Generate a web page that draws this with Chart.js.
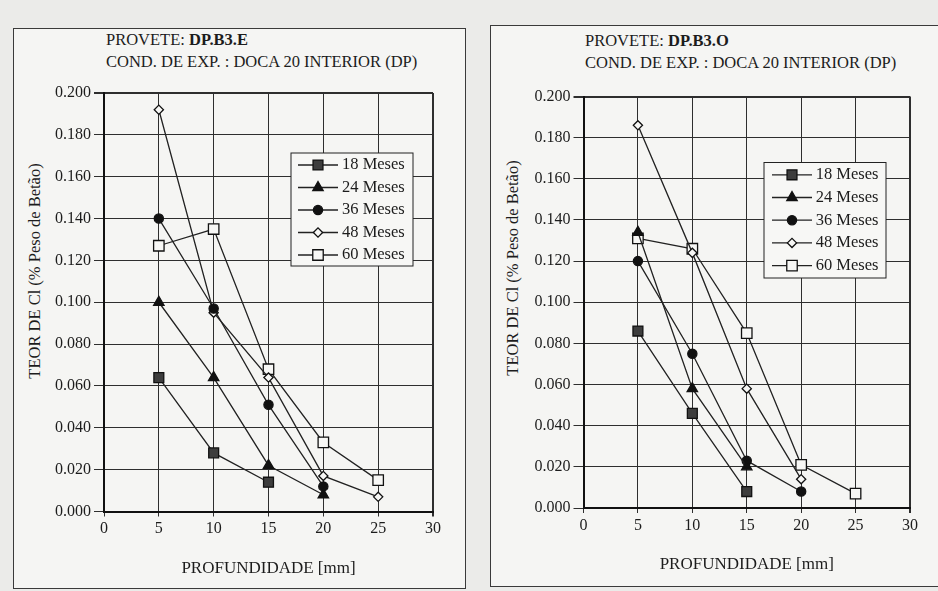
<!DOCTYPE html>
<html>
<head>
<meta charset="utf-8">
<script src="https://cdn.jsdelivr.net/npm/chart.js@4.4.1/dist/chart.umd.min.js"></script>
<style>
body{margin:0;background:#ebebe9;overflow:hidden;width:938px;height:591px;position:relative;font-family:"Liberation Serif",serif;color:#1c1c1c}
.box{position:absolute;border:1.5px solid #3a3a3a;background:#f5f5f3}
.ttl{position:absolute;font-size:16.5px;line-height:22px;white-space:nowrap}
.ytl{position:absolute;font-size:16.5px;white-space:nowrap;transform:translate(-50%,-50%) rotate(-90deg)}
.wrap{position:absolute}
</style>
</head>
<body>
<div class="box" style="left:13px;top:28px;width:451px;height:559px"></div>
<div class="box" style="left:490px;top:25px;width:470px;height:560px"></div>

<div class="ttl" style="left:106px;top:29px">PROVETE: <b>DP.B3.E</b><br>COND. DE EXP. : DOCA 20 INTERIOR (DP)</div>
<div class="ttl" style="left:585px;top:30px">PROVETE: <b>DP.B3.O</b><br>COND. DE EXP. : DOCA 20 INTERIOR (DP)</div>

<div class="ytl" style="left:35px;top:271px">TEOR DE Cl (% Peso de Betão)</div>
<div class="ytl" style="left:513px;top:268px">TEOR DE Cl (% Peso de Betão)</div>

<div class="wrap" style="left:14px;top:29px;width:450px;height:558px"><canvas id="chartE"></canvas></div>
<div class="wrap" style="left:494px;top:27px;width:460px;height:557px"><canvas id="chartO"></canvas></div>

<script>
// profundidade [mm]
const depths = [5, 10, 15, 20, 25];
const labels = ['18 Meses', '24 Meses', '36 Meses', '48 Meses', '60 Meses'];

// provete DP.B3.E
const e18 = [0.064, 0.028, 0.014, null, null];
const e24 = [0.100, 0.064, 0.022, 0.008, null];
const e36 = [0.140, 0.097, 0.051, 0.012, null];
const e48 = [0.192, 0.095, 0.064, 0.017, 0.007];
const e60 = [0.127, 0.135, 0.068, 0.033, 0.015];

// provete DP.B3.O
const o18 = [0.086, 0.046, 0.008, null, null];
const o24 = [0.134, 0.058, 0.020, null, null];
const o36 = [0.120, 0.075, 0.023, 0.008, null];
const o48 = [0.186, 0.124, 0.058, 0.014, null];
const o60 = [0.131, 0.126, 0.085, 0.021, 0.007];

const serif = '"Liberation Serif", serif';
const ink = '#1c1c1c';

// marker look per series
const marks = [
    { pointStyle: 'rect', pointRadius: 7, pointBackgroundColor: '#3d3d3d' },
    { pointStyle: 'triangle', pointRadius: 6, pointBackgroundColor: '#111' },
    { pointStyle: 'circle', pointRadius: 4.6, pointBackgroundColor: '#111' },
    { pointStyle: 'rectRot', pointRadius: 4.6, pointBackgroundColor: '#f7f7f5' },
    { pointStyle: 'rect', pointRadius: 7.4, pointBackgroundColor: '#f7f7f5' },
];

function toPoints(vals) {
    return depths.map((d, i) => ({ x: d, y: vals[i] }));
}

function makeSets(list) {
    return list.map((vals, i) => Object.assign({
        label: labels[i],
        data: toPoints(vals),
        borderColor: '#222',
        borderWidth: 1.3,
        pointBorderColor: '#111',
        pointBorderWidth: 1.3,
        pointHoverRadius: 0,
        spanGaps: false,
        tension: 0,
    }, marks[i]));
}

// legend drawn as a framed box inside the plot
const boxLegend = {
    id: 'boxLegend',
    afterDatasetsDraw(chart, args, o) {
        const { ctx, chartArea: a } = chart;
        const x = a.left + o.dx, y = a.top + o.dy;
        ctx.save();
        ctx.fillStyle = '#f7f7f5';
        ctx.strokeStyle = '#222';
        ctx.lineWidth = 1;
        ctx.fillRect(x, y, o.w, o.h);
        ctx.strokeRect(x, y, o.w, o.h);
        chart.data.datasets.forEach((ds, i) => {
            const cy = y + o.first + i * o.row;
            ctx.strokeStyle = ds.borderColor;
            ctx.lineWidth = ds.borderWidth;
            ctx.beginPath();
            ctx.moveTo(x + o.l0, cy);
            ctx.lineTo(x + o.l1, cy);
            ctx.stroke();
            ctx.fillStyle = ds.pointBackgroundColor;
            ctx.strokeStyle = ds.pointBorderColor;
            ctx.lineWidth = ds.pointBorderWidth;
            Chart.helpers.drawPoint(ctx, {
                pointStyle: ds.pointStyle,
                radius: ds.pointRadius,
                borderWidth: ds.pointBorderWidth,
            }, x + (o.l0 + o.l1) / 2, cy);
            ctx.fillStyle = ink;
            ctx.font = '16.5px ' + serif;
            ctx.textBaseline = 'middle';
            ctx.textAlign = 'left';
            ctx.fillText(ds.label, x + o.tx, cy);
        });
        ctx.restore();
    }
};

function makeChart(id, list, lay) {
    const edge = (max) => (c) => (c.tick && c.tick.value === max ? 2 : 1);
    return new Chart(document.getElementById(id), {
        type: 'line',
        data: { datasets: makeSets(list) },
        plugins: [boxLegend],
        options: {
            responsive: true,
            maintainAspectRatio: false,
            animation: false,
            events: [],
            layout: { padding: { left: 0, right: lay.right, top: lay.top, bottom: 0 } },
            plugins: {
                legend: { display: false },
                tooltip: { enabled: false },
                boxLegend: lay.legend,
            },
            scales: {
                x: {
                    type: 'linear',
                    min: 0,
                    max: 30,
                    ticks: { stepSize: 5, color: ink, font: { family: serif, size: 16 }, padding: 3 },
                    grid: { color: '#2e2e2e', lineWidth: edge(30), tickLength: 5 },
                    border: { color: '#111', width: 2 },
                    title: {
                        display: true,
                        text: 'PROFUNDIDADE [mm]',
                        color: ink,
                        font: { family: serif, size: 17 },
                        padding: { top: 0, bottom: lay.titlePad },
                    },
                    afterFit: (s) => { s.height = lay.xh; },
                },
                y: {
                    min: 0,
                    max: 0.2,
                    ticks: {
                        stepSize: 0.02,
                        color: ink,
                        font: { family: serif, size: 16 },
                        padding: 3,
                        callback: (v) => v.toFixed(3),
                    },
                    grid: { color: '#2e2e2e', lineWidth: edge(0.2), tickLength: 10 },
                    border: { color: '#111', width: 2 },
                    afterFit: (s) => { s.width = lay.yw; },
                },
            },
        },
    });
}

makeChart('chartE', [e18, e24, e36, e48, e60], {
    right: 31, top: 64, yw: 90, xh: 75.5, titlePad: 7.8,
    legend: { dx: 187, dy: 60, w: 122, h: 113, first: 12, row: 22.5, l0: 7, l1: 47, tx: 51 },
});

makeChart('chartO', [o18, o24, o36, o48, o60], {
    right: 44, top: 69.5, yw: 89.5, xh: 76, titlePad: 8.8,
    legend: { dx: 180.5, dy: 66, w: 122, h: 115.5, first: 12.3, row: 22.7, l0: 8, l1: 48, tx: 51.7 },
});
</script>
</body>
</html>
